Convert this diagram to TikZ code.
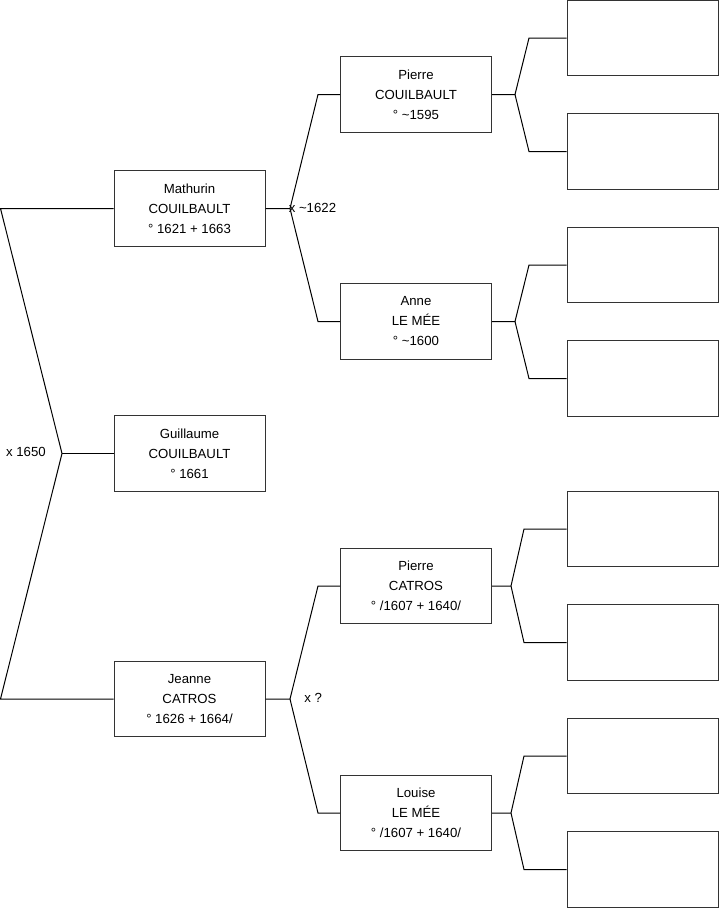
\documentclass[tikz,border=0pt]{standalone}
\usepackage{fontspec}
\setmainfont{Liberation Sans}
\usetikzlibrary{positioning}
\definecolor{boxline}{RGB}{51, 51, 51}
\tikzset{
  pbox/.style={
    rectangle, draw=boxline, fill=white, line width=0.75pt,
    minimum width=113.25pt, minimum height=56.5pt,
    align=center, inner sep=0pt,
    font=\fontsize{9.9}{15}\selectfont
  },
  ebox/.style={
    rectangle, draw=boxline, fill=white, line width=0.75pt,
    minimum width=113.25pt, minimum height=56.5pt, inner sep=0pt
  },
  lbl/.style={inner sep=0pt, font=\fontsize{9.9}{11}\selectfont},
  link/.style={line width=0.75pt, color=black},
}

\begin{document}
\begin{tikzpicture}[x=0.75pt, y=-0.75pt]
    \useasboundingbox (0,0) rectangle (719,908);

    % child and siblings
    \node[pbox] (mat) at (189.5,208.5) {Mathurin\\COUILBAULT\\° 1621 + 1663};
    \node[pbox] (gui) at (189.5,453.5) {Guillaume\\COUILBAULT\\° 1661};
    \node[pbox] (jea) at (189.5,699)   {Jeanne\\CATROS\\° 1626 + 1664/};

    % parents
    \node[pbox] (pco) at (416,94.5)  {Pierre\\COUILBAULT\\° \textasciitilde 1595};
    \node[pbox] (ann) at (416,321.5) {Anne\\LE MÉE\\° \textasciitilde 1600};
    \node[pbox] (pca) at (416,586)   {Pierre\\CATROS\\° /1607 + 1640/};
    \node[pbox] (lou) at (416,813)   {Louise\\LE MÉE\\° /1607 + 1640/};

    % grandparents (unknown)
    \node[ebox] (e1) at (642.5,38)    {};
    \node[ebox] (e2) at (642.5,151.5) {};
    \node[ebox] (e3) at (642.5,265)   {};
    \node[ebox] (e4) at (642.5,378.5) {};
    \node[ebox] (e5) at (642.5,529)   {};
    \node[ebox] (e6) at (642.5,642.5) {};
    \node[ebox] (e7) at (642.5,756)   {};
    \node[ebox] (e8) at (642.5,869.5) {};

    % fork points
    \coordinate (r1) at (0.5,208.5);  \coordinate (r0) at (62,453.5);  \coordinate (r2) at (0.5,699);
    \coordinate (fm) at (290,208.5);  \coordinate (fm1) at (318,94.5); \coordinate (fm2) at (318,321.5);
    \coordinate (fj) at (290,699);    \coordinate (fj1) at (318,586);  \coordinate (fj2) at (318,813);
    \coordinate (g1) at (515,94.5);   \coordinate (g1a) at (529,38);   \coordinate (g1b) at (529,151.5);
    \coordinate (g2) at (515,321.5);  \coordinate (g2a) at (529,265);  \coordinate (g2b) at (529,378.5);
    \coordinate (g3) at (511,586);    \coordinate (g3a) at (524,529);  \coordinate (g3b) at (524,642.5);
    \coordinate (g4) at (511,813);    \coordinate (g4a) at (524,756);  \coordinate (g4b) at (524,869.5);

    \draw[link] (mat.west) -- (r1) -- (r0) -- (r2) -- (jea.west);
    \draw[link] (r0) -- (gui.west);
    \draw[link] (mat.east) -- (fm) -- (fm1) -- (pco.west); \draw[link] (fm) -- (fm2) -- (ann.west);
    \draw[link] (jea.east) -- (fj) -- (fj1) -- (pca.west); \draw[link] (fj) -- (fj2) -- (lou.west);
    \draw[link] (pco.east) -- (g1) -- (g1a) -- (e1.west); \draw[link] (g1) -- (g1b) -- (e2.west);
    \draw[link] (ann.east) -- (g2) -- (g2a) -- (e3.west); \draw[link] (g2) -- (g2b) -- (e4.west);
    \draw[link] (pca.east) -- (g3) -- (g3a) -- (e5.west); \draw[link] (g3) -- (g3b) -- (e6.west);
    \draw[link] (lou.east) -- (g4) -- (g4a) -- (e7.west); \draw[link] (g4) -- (g4b) -- (e8.west);

    % marriages
    \node[lbl, anchor=east] (m0) at (46,452) {x 1650};
    \node[lbl, anchor=west] (m1) at (288.5,207.5) {x \textasciitilde 1622};
    \node[lbl, anchor=west] (m2) at (304,697.5) {x ?};
\end{tikzpicture}
\end{document}
